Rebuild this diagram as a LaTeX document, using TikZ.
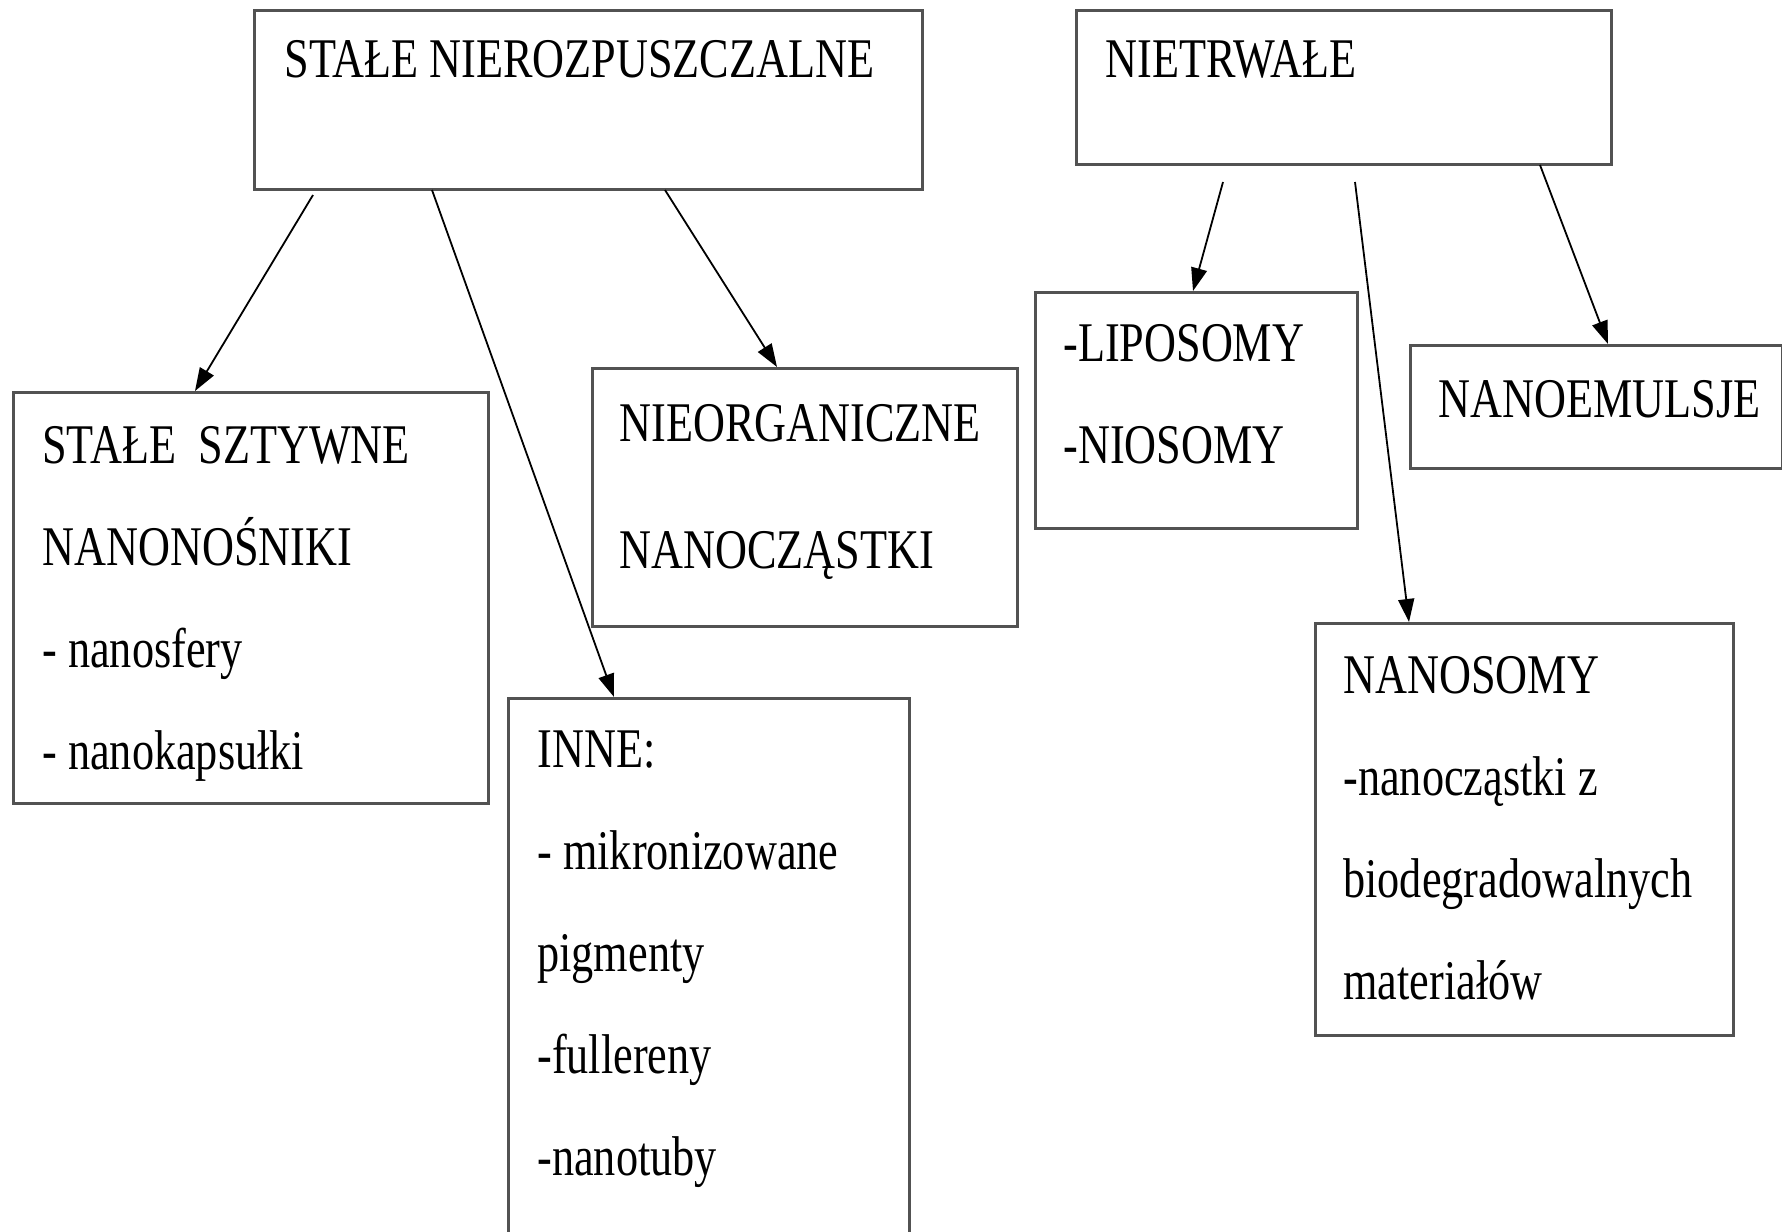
\documentclass[tikz,border=0pt]{standalone}
\usepackage{fontspec}
\setmainfont{Liberation Serif}[FakeStretch=0.79]
\usetikzlibrary{arrows.meta}

\begin{document}
\begin{tikzpicture}[x=0.5pt,y=0.5pt]
\tikzset{
  box/.style={draw=black!68,line width=1.4pt,anchor=north west,inner sep=0pt},
  txt/.style={anchor=base west,inner sep=0pt,align=left,font=\fontsize{28}{51}\selectfont},
  arr/.style={black,line width=0.9pt,-{Triangle[length=11.5pt,width=8pt]}}
}
\clip (0,0) rectangle (1782,-1231);
% boxes
\node[box,minimum width=334pt,minimum height=89.5pt] (stale) at (253,-9) {};
\node[box,minimum width=267.5pt,minimum height=77pt] (nietrw) at (1075,-9) {};
\node[box,minimum width=237.5pt,minimum height=205.5pt] (sztywne) at (12,-391) {};
\node[box,minimum width=212.5pt,minimum height=129pt] (nieorg) at (591,-367) {};
\node[box,minimum width=200.5pt,minimum height=281.5pt] (inne) at (507,-697) {};
\node[box,minimum width=161pt,minimum height=118pt] (lipo) at (1034,-291) {};
\node[box,minimum width=186pt,minimum height=61.5pt] (emul) at (1409,-344) {};
\node[box,minimum width=209pt,minimum height=206pt] (nanosomy) at (1314,-622) {};
% texts (anchored at the baseline of the last line)
\node[txt] (staleT) at ([shift={(31,-68)}]stale.north west) {STAŁE NIEROZPUSZCZALNE};
\node[txt] (nietrwT) at ([shift={(30,-68)}]nietrw.north west) {NIETRWAŁE};
\node[txt] (sztywneT) at ([shift={(30,-378)}]sztywne.north west)
  {STAŁE\ \ SZTYWNE\\NANONOŚNIKI\\- nanosfery\\- nanokapsułki};
\node[txt] (nieorgT) at ([shift={(28,-201)}]nieorg.north west)
  {NIEORGANICZNE\\[12.5pt]NANOCZĄSTKI};
\node[txt] (inneT) at ([shift={(30,-478)}]inne.north west)
  {INNE:\\- mikronizowane\\pigmenty\\-fullereny\\-nanotuby};
\node[txt] (lipoT) at ([shift={(29,-172)}]lipo.north west) {-LIPOSOMY\\-NIOSOMY};
\node[txt] (emulT) at ([shift={(29,-73)}]emul.north west) {NANOEMULSJE};
\node[txt] (nanosomyT) at ([shift={(29,-377)}]nanosomy.north west)
  {NANOSOMY\\-nanocząstki z\\biodegradowalnych\\materiałów};
% arrows
\coordinate (a1) at (313,-195);
\coordinate (a2) at (432,-190);
\coordinate (a3) at (665,-190);
\coordinate (a4) at (1223,-182);
\coordinate (a5) at (1355,-182);
\coordinate (a6) at (1540,-165);
\draw[arr] (a1) -- ([shift={(183,0)}]sztywne.north west);
\draw[arr] (a2) -- ([shift={(107,0)}]inne.north west);
\draw[arr] (a3) -- ([shift={(186,0)}]nieorg.north west);
\draw[arr] (a4) -- ([shift={(159,0)}]lipo.north west);
\draw[arr] (a5) -- ([shift={(95,0)}]nanosomy.north west);
\draw[arr] (a6) -- ([shift={(199,0)}]emul.north west);
\end{tikzpicture}
\end{document}
